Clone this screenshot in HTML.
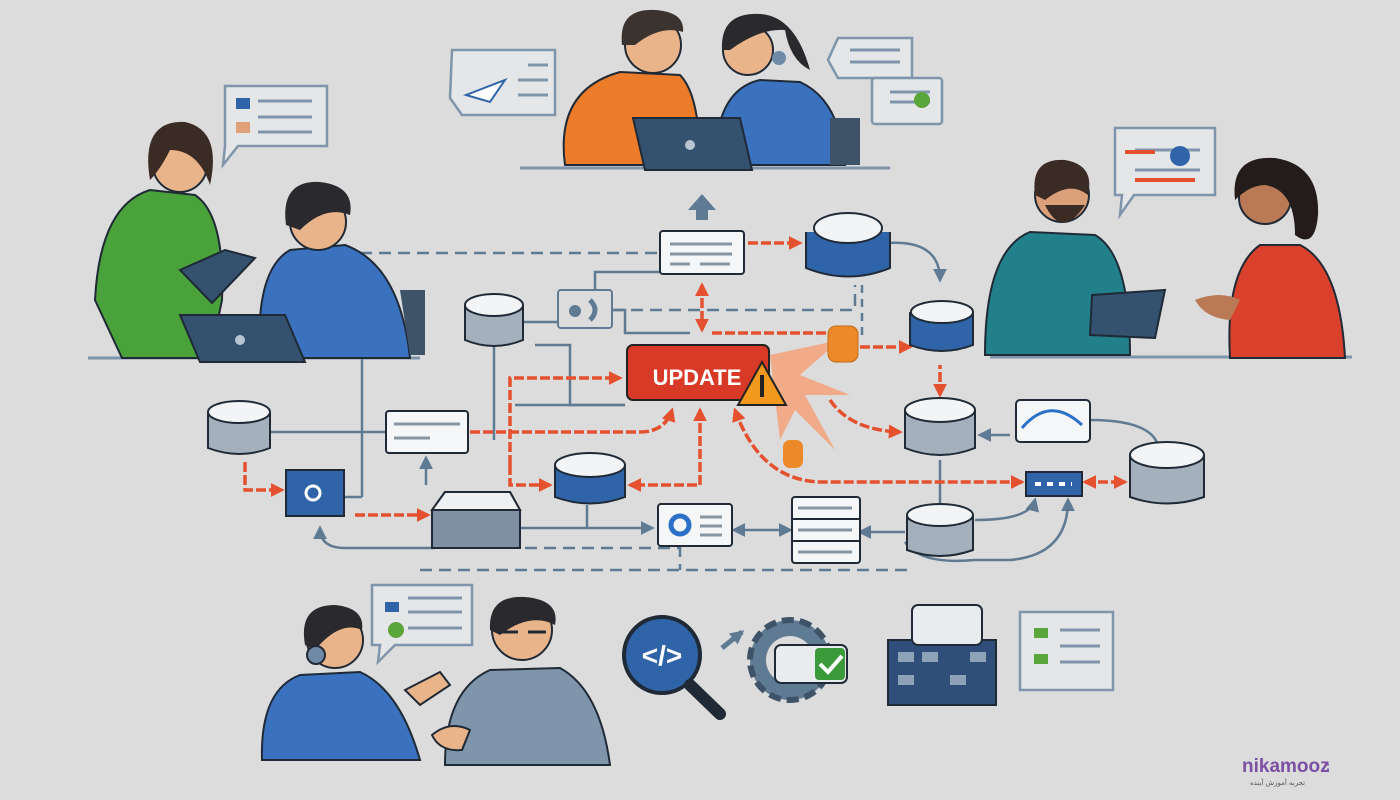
<!DOCTYPE html>
<html><head><meta charset="utf-8"><style>
html,body{margin:0;padding:0;background:#dcdcdc}
svg{display:block}
</style></head><body>
<svg width="1400" height="800" viewBox="0 0 1400 800" xmlns="http://www.w3.org/2000/svg" font-family="Liberation Sans, sans-serif">
<defs>
<marker id="ar" viewBox="0 0 10 10" markerWidth="14" markerHeight="14" refX="8" refY="5" orient="auto-start-reverse" markerUnits="userSpaceOnUse"><path d="M0,0 L10,5 L0,10z" fill="#e5502e"/></marker>
<marker id="ab" viewBox="0 0 10 10" markerWidth="14" markerHeight="14" refX="8" refY="5" orient="auto-start-reverse" markerUnits="userSpaceOnUse"><path d="M0,0 L10,5 L0,10z" fill="#5f7a93"/></marker>
</defs>
<rect width="1400" height="800" fill="#dcdcdc"/>

<!-- gray connectors -->
<g stroke="#5f7a93" stroke-width="2.5" fill="none">
<path d="M360,253 H660" stroke-dasharray="12,7"/>
<path d="M595,297 V272 H660"/>
<path d="M612,310 H855 V285" stroke-dasharray="12,7"/>
<path d="M612,310 H625 V333 H690"/>
<path d="M520,322 H560"/>
<path d="M494,345 V440"/>
<path d="M535,345 H570 V405 H625" />
<path d="M515,405 H625"/>
<path d="M888,243 Q940,240 940,280"  marker-end="url(#ab)"/>
<path d="M255,432 H385" marker-start="url(#ab)"/>
<path d="M426,485 V458" marker-end="url(#ab)"/>
<path d="M362,497 V355"/>
<path d="M345,497 H362"/>
<path d="M520,528 H652" marker-end="url(#ab)"/>
<path d="M587,505 V528"/>
<path d="M734,530 H790" marker-start="url(#ab)" marker-end="url(#ab)"/>
<path d="M905,532 H860" marker-end="url(#ab)"/>
<path d="M320,528 Q320,548 345,548 H435" marker-start="url(#ab)"/>
<path d="M525,548 H680 V570 M420,570 H910" stroke-dasharray="12,7"/>
<path d="M905,542 Q920,565 975,560 H1010 Q1068,555 1068,500" marker-end="url(#ab)"/>
<path d="M975,520 Q1030,520 1035,500" marker-end="url(#ab)"/>
<path d="M1010,435 H980" marker-end="url(#ab)"/>
<path d="M1090,420 Q1150,420 1158,445"/>
<path d="M940,460 V510"/>
<path d="M862,285 V340" stroke-dasharray="8,6"/>
</g>

<!-- orange connectors -->
<g stroke="#e5502e" stroke-width="3.5" fill="none" stroke-dasharray="10,3">
<path d="M748,243 H800" marker-end="url(#ar)"/>
<path d="M702,285 V330" marker-start="url(#ar)" marker-end="url(#ar)"/>
<path d="M712,333 H830"/>
<path d="M860,347 H910" marker-end="url(#ar)"/>
<path d="M510,465 V378 H620" marker-end="url(#ar)"/>
<path d="M470,432 H640 Q665,432 672,410" marker-end="url(#ar)"/>
<path d="M510,465 V485 H550" marker-end="url(#ar)"/>
<path d="M700,410 V485 H630" marker-start="url(#ar)" marker-end="url(#ar)"/>
<path d="M735,410 Q760,480 820,482 H1022" marker-start="url(#ar)" marker-end="url(#ar)"/>
<path d="M1085,482 H1125" marker-start="url(#ar)" marker-end="url(#ar)"/>
<path d="M245,462 V490 H282" marker-end="url(#ar)"/>
<path d="M355,515 H428" marker-end="url(#ar)"/>
<path d="M830,400 Q850,430 900,432" marker-end="url(#ar)"/>
<path d="M940,395 V365" marker-start="url(#ar)"/>
</g>
<path d="M702,194 L716,210 H708 V220 H696 V210 H688z" fill="#5f7a93"/>
<!-- burst -->
<g fill="#f4a27a" opacity="0.85">
<path d="M770,355 L840,340 L800,375 L850,395 L805,395 L835,450 L795,410 L780,440 Z"/>
</g>
<rect x="828" y="326" width="30" height="36" rx="8" fill="#ec8a2a" stroke="#c56a15"/>
<rect x="783" y="440" width="20" height="28" rx="7" fill="#ec8a2a"/>

<!-- UPDATE -->
<rect x="627" y="345" width="142" height="55" rx="6" fill="#d83a27" stroke="#222" stroke-width="2"/>
<text x="697" y="385" font-size="22" font-weight="bold" fill="#fff" text-anchor="middle">UPDATE</text>
<path d="M762,362 L786,405 L738,405z" fill="#f39a1e" stroke="#222" stroke-width="2"/>
<rect x="760" y="375" width="4" height="22" fill="#222"/>

<!-- doc boxes -->
<g stroke="#1f2a36" stroke-width="2" fill="#f4f6f8">
<rect x="660" y="231" width="84" height="43" rx="3"/>
<rect x="386" y="411" width="82" height="42" rx="3"/>
<rect x="658" y="504" width="74" height="42" rx="3"/>
<rect x="792" y="497" width="68" height="66" rx="3"/>
<rect x="558" y="290" width="54" height="38" rx="3" fill="#dcdcdc" stroke="#5f7a93"/>
<rect x="1016" y="400" width="74" height="42" rx="4"/>
</g>
<g stroke="#8896a3" stroke-width="3">
<path d="M670,244 H732 M670,254 H732 M670,264 H690 M700,264 H730"/>
<path d="M394,424 H460 M394,438 H430"/>
<path d="M700,517 H722 M700,526 H722 M700,535 H722"/>
<path d="M798,508 H852 M798,530 H852 M798,552 H852"/>
</g>
<path d="M792,519 H860 M792,541 H860" stroke="#1f2a36" stroke-width="2"/>
<circle cx="680" cy="525" r="9" fill="none" stroke="#2a72c9" stroke-width="5"/>
<circle cx="575" cy="311" r="6" fill="#5f7a93"/><path d="M590,300 q10,10 0,20" stroke="#5f7a93" stroke-width="5" fill="none"/>
<path d="M1022,428 Q1050,395 1082,425" stroke="#2a72c9" stroke-width="3" fill="none"/>

<!-- cylinders -->
<g stroke="#1f2a36" stroke-width="2">
<g fill="#a4b1bd">
<path d="M465,305 V340 Q494,352 523,340 V305"/>
<path d="M208,412 V448 Q240,460 270,448 V412"/>
<path d="M905,410 V448 Q940,462 975,448 V410"/>
<path d="M907,515 V550 Q940,562 973,550 V515"/>
<path d="M1130,455 V497 Q1167,510 1204,497 V455"/>
</g>
<g fill="#f2f4f6">
<ellipse cx="494" cy="305" rx="29" ry="11"/>
<ellipse cx="239" cy="412" rx="31" ry="11"/>
<ellipse cx="940" cy="410" rx="35" ry="12"/>
<ellipse cx="940" cy="515" rx="33" ry="11"/>
<ellipse cx="1167" cy="455" rx="37" ry="13"/>
</g>
<g fill="#2f65a8">
<path d="M555,465 V497 Q590,510 625,497 V465"/>
<path d="M910,312 V345 Q942,357 973,345 V312"/>
<path d="M806,232 V268 Q848,285 890,268 V232"/>
</g>
<g fill="#f2f4f6">
<ellipse cx="590" cy="465" rx="35" ry="12"/>
<ellipse cx="942" cy="312" rx="31" ry="11"/>
<ellipse cx="848" cy="228" rx="34" ry="15"/>
</g>
<path d="M432,510 L445,492 H510 L520,510 V548 H432z" fill="#7f90a2"/>
<path d="M432,510 L445,492 H510 L520,510z" fill="#eef0f2"/>
<rect x="286" y="470" width="58" height="46" fill="#2f65a8"/>
<rect x="1026" y="472" width="56" height="24" fill="#2f65a8"/>
</g>
<circle cx="313" cy="493" r="7" fill="none" stroke="#fff" stroke-width="3"/>
<path d="M1035,484 H1072" stroke="#fff" stroke-width="4" stroke-dasharray="6,6"/>

<!-- speech bubbles -->
<g fill="#e4e6e8" stroke="#7f95ab" stroke-width="2.5">
<path d="M225,86 H327 V146 H238 L223,165 L225,146z"/>
<path d="M452,50 H555 V115 H462 L450,98z"/>
<path d="M838,38 H912 V78 H838 L828,60z"/>
<rect x="872" y="78" width="70" height="46" rx="3"/>
<path d="M1115,128 H1215 V195 H1134 L1120,215 L1122,195 H1115z"/>
<path d="M372,585 H472 V645 H395 L378,662 L380,645 H372z"/>
<path d="M1020,612 H1113 V690 H1020z"/>
</g>
<g stroke="#7f95ab" stroke-width="3">
<path d="M258,101 H312 M258,117 H312 M258,132 H312 M528,65 H548 M518,80 H548 M518,95 H548 M850,50 H900 M850,62 H900 M890,92 H930 M890,102 H930 M1135,150 H1200 M1135,170 H1200 M408,598 H462 M408,612 H462 M408,628 H462 M1060,630 H1100 M1060,646 H1100 M1060,662 H1100"/>
</g>
<rect x="236" y="98" width="14" height="11" fill="#2f65a8"/><rect x="236" y="122" width="14" height="11" fill="#e0a07a"/>
<path d="M466,95 L505,80 L490,102z" fill="#fff" stroke="#2f65a8" stroke-width="2"/>
<circle cx="922" cy="100" r="8" fill="#5aa63a"/>
<path d="M1125,152 H1155 M1135,180 H1195" stroke="#e5502e" stroke-width="4"/>
<circle cx="1180" cy="156" r="10" fill="#2f65a8"/>
<rect x="385" y="602" width="14" height="10" fill="#2f65a8"/><circle cx="396" cy="630" r="8" fill="#5aa63a"/>
<rect x="1034" y="628" width="14" height="10" fill="#5aa63a"/><rect x="1034" y="654" width="14" height="10" fill="#5aa63a"/>

<!-- bottom icons -->
<circle cx="662" cy="655" r="38" fill="#2f65a8" stroke="#1f2a36" stroke-width="4"/>
<text x="662" y="665" font-size="28" fill="#fff" text-anchor="middle" font-weight="bold">&lt;/&gt;</text>
<path d="M690,685 L720,714" stroke="#1f2a36" stroke-width="12" stroke-linecap="round"/>
<circle cx="790" cy="660" r="40" fill="#5f7a93" stroke="#3f5368" stroke-width="6" stroke-dasharray="12,6"/>
<circle cx="790" cy="660" r="24" fill="#dcdcdc"/>
<rect x="775" y="645" width="72" height="38" rx="6" fill="#e8ecef" stroke="#1f2a36" stroke-width="2"/>
<rect x="815" y="648" width="30" height="32" rx="4" fill="#3b9a3a"/>
<path d="M820,664 l8,8 l14,-16" stroke="#fff" stroke-width="4" fill="none"/>
<path d="M722,648 L742,632" stroke="#5f7a93" stroke-width="5" marker-end="url(#ab)"/>
<rect x="888" y="640" width="108" height="65" fill="#2f4e7a" stroke="#1f2a36" stroke-width="2"/>
<rect x="912" y="605" width="70" height="40" rx="6" fill="#e8ecef" stroke="#1f2a36" stroke-width="2"/>
<g fill="#8fa3b8"><rect x="898" y="652" width="16" height="10"/><rect x="922" y="652" width="16" height="10"/><rect x="898" y="675" width="16" height="10"/><rect x="950" y="675" width="16" height="10"/><rect x="970" y="652" width="16" height="10"/></g>

<!-- desks -->
<g stroke="#7f95ab" stroke-width="3">
<path d="M88,358 H420 M520,168 H890 M990,357 H1352"/>
</g>

<!-- PEOPLE -->
<path d="M565,165 Q555,90 620,72 L680,75 Q700,95 700,165z" fill="#ec7b2a" stroke="#1f2a36" stroke-width="2"/>
<circle cx="653" cy="45" r="28" fill="#eab48a" stroke="#1f2a36" stroke-width="2"/>
<path d="M622,45 Q618,8 655,10 Q685,12 683,32 Q660,25 635,45z" fill="#3b3330"/>
<path d="M715,165 Q715,90 760,80 L800,82 Q840,100 845,165z" fill="#3a72c0" stroke="#1f2a36" stroke-width="2"/>
<path d="M830,118 H860 V165 H830z" fill="#3f5368"/>
<circle cx="748" cy="50" r="25" fill="#eab48a" stroke="#1f2a36" stroke-width="2"/>
<path d="M722,50 Q720,12 760,14 Q795,16 810,70 Q790,60 785,30 Q760,28 730,50z" fill="#2a2a2e"/>
<circle cx="779" cy="58" r="7" fill="#6f8aa6"/>
<path d="M633,118 H740 L752,170 H645z" fill="#34516f" stroke="#1f2a36" stroke-width="2"/>
<circle cx="690" cy="145" r="5" fill="#b8c6d3"/>

<path d="M95,300 Q100,205 150,190 L195,195 Q225,215 222,300 L210,358 H122z" fill="#4aa23a" stroke="#1f2a36" stroke-width="2"/>
<circle cx="180" cy="165" r="27" fill="#eab48a" stroke="#1f2a36" stroke-width="2"/>
<path d="M150,180 Q140,120 185,122 Q222,130 210,185 Q198,150 170,150 Q160,170 150,180z" fill="#3b2b25"/>
<path d="M180,270 L225,250 L255,258 L212,303z" fill="#34516f" stroke="#1f2a36" stroke-width="2"/>
<path d="M260,358 Q255,270 290,250 L345,245 Q400,265 410,358z" fill="#3a72c0" stroke="#1f2a36" stroke-width="2"/>
<path d="M400,290 H425 V355 H410z" fill="#3f5368"/>
<circle cx="318" cy="222" r="28" fill="#eab48a" stroke="#1f2a36" stroke-width="2"/>
<path d="M286,225 Q280,180 320,182 Q355,186 350,215 Q325,205 300,230z" fill="#2a2a2e"/>
<path d="M180,315 H285 L305,362 H200z" fill="#34516f" stroke="#1f2a36" stroke-width="2"/>
<circle cx="240" cy="340" r="5" fill="#b8c6d3"/>

<path d="M985,355 Q985,250 1030,232 L1095,235 Q1130,255 1130,355z" fill="#22808a" stroke="#1f2a36" stroke-width="2"/>
<circle cx="1062" cy="195" r="27" fill="#d9a07a" stroke="#1f2a36" stroke-width="2"/>
<path d="M1035,195 Q1030,158 1065,160 Q1095,165 1088,195 Q1070,180 1045,200z" fill="#3b2b25"/>
<path d="M1045,205 Q1062,240 1085,205z" fill="#3b2b25"/>
<path d="M1092,295 L1165,290 L1155,338 L1090,335z" fill="#34516f" stroke="#1f2a36" stroke-width="2"/>
<path d="M1230,358 Q1225,270 1260,245 L1300,245 Q1340,265 1345,358z" fill="#d9412c" stroke="#1f2a36" stroke-width="2"/>
<circle cx="1265" cy="198" r="26" fill="#b97a55" stroke="#1f2a36" stroke-width="2"/>
<path d="M1235,200 Q1230,155 1275,158 Q1320,165 1318,215 Q1315,250 1295,235 Q1295,190 1265,185 Q1250,185 1235,200z" fill="#231c1a"/>
<path d="M1195,300 Q1220,290 1240,300 L1230,320 Q1205,318 1195,300z" fill="#b97a55"/>

<path d="M262,760 Q260,690 300,675 L360,672 Q400,690 420,760z" fill="#3a72c0" stroke="#1f2a36" stroke-width="2"/>
<circle cx="335" cy="640" r="28" fill="#eab48a" stroke="#1f2a36" stroke-width="2"/>
<path d="M305,645 Q298,605 335,605 Q365,608 362,630 Q340,620 315,650z" fill="#2a2a2e"/>
<circle cx="316" cy="655" r="9" fill="#6f8aa6" stroke="#1f2a36" stroke-width="2"/>
<path d="M405,690 L440,672 L450,685 L420,705z" fill="#eab48a" stroke="#1f2a36" stroke-width="2"/>
<path d="M445,765 Q445,690 490,670 L560,668 Q600,690 610,765z" fill="#7f95ab" stroke="#1f2a36" stroke-width="2"/>
<circle cx="522" cy="630" r="30" fill="#eab48a" stroke="#1f2a36" stroke-width="2"/>
<path d="M490,630 Q488,595 525,597 Q560,600 555,625 Q530,612 500,635z" fill="#2a2a2e"/>
<path d="M500,632 h18 M528,632 h18" stroke="#1f2a36" stroke-width="3"/>
<path d="M432,735 Q450,720 470,730 L462,750 Q440,752 432,735z" fill="#eab48a" stroke="#1f2a36" stroke-width="2"/>

<!-- logo -->
<text x="1242" y="772" font-size="19" font-weight="bold" fill="#7b4fa3">nikamooz</text>
<text x="1326" y="770" font-size="12" font-weight="bold" fill="#7b4fa3">;</text>
<text x="1250" y="785" font-size="7" fill="#555" font-family="DejaVu Sans, sans-serif">تجربه آموزش آینده</text>
</svg>
</body></html>
